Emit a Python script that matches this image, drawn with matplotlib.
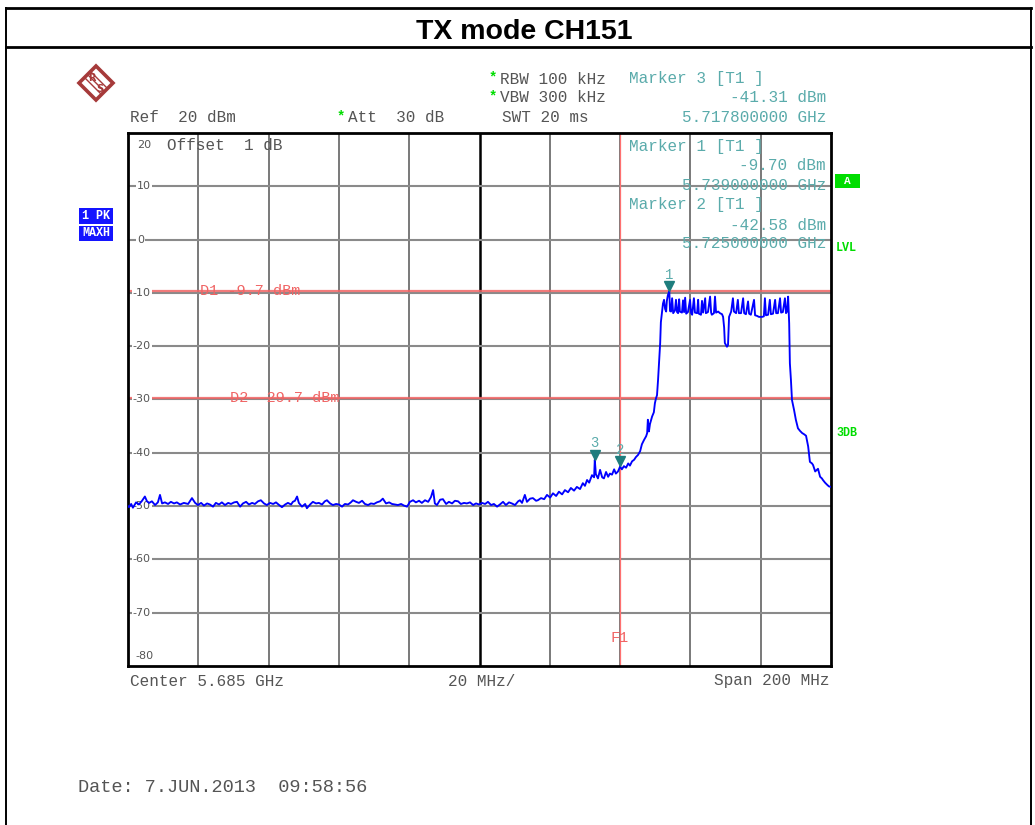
import matplotlib
matplotlib.use('Agg')
import matplotlib.pyplot as plt
import matplotlib.transforms as mtransforms
from matplotlib.patches import Polygon, Rectangle
from matplotlib.lines import Line2D

# sweep: 5.585 .. 5.785 GHz, max-hold peak trace
freq_mhz = [
    5585.0, 5585.3, 5585.9, 5586.4, 5587.3, 5588.1, 5589.0, 5589.8, 5590.4, 5591.0,
    5591.8, 5592.7, 5593.5, 5594.1, 5594.7, 5595.5, 5596.4, 5597.2, 5598.1, 5598.9,
    5599.8, 5600.9, 5602.1, 5603.2, 5604.1, 5604.9, 5605.8, 5606.6, 5607.5, 5608.3,
    5609.2, 5610.0, 5610.9, 5611.7, 5612.6, 5613.5, 5614.3, 5615.2, 5616.0, 5616.9,
    5617.7, 5618.6, 5619.4, 5620.3, 5621.1, 5622.0, 5622.8, 5623.7, 5624.5, 5625.4,
    5626.3, 5627.1, 5628.0, 5628.8, 5629.7, 5630.5, 5631.4, 5631.9, 5632.5, 5633.1,
    5633.6, 5634.5, 5635.4, 5635.9, 5636.8, 5637.6, 5638.5, 5639.3, 5640.2, 5641.0,
    5641.6, 5642.5, 5643.3, 5644.2, 5645.0, 5645.9, 5646.7, 5647.6, 5648.4, 5649.0,
    5649.9, 5650.7, 5651.6, 5652.4, 5653.3, 5654.1, 5655.0, 5655.8, 5656.7, 5657.5,
    5658.4, 5659.3, 5660.1, 5661.0, 5661.8, 5662.7, 5663.5, 5664.4, 5665.2, 5666.1,
    5666.9, 5667.8, 5668.6, 5669.5, 5670.4, 5671.2, 5671.8, 5672.3, 5672.9, 5673.8,
    5674.6, 5675.5, 5676.3, 5677.2, 5678.0, 5678.9, 5679.7, 5680.6, 5681.4, 5682.3,
    5683.2, 5684.0, 5684.9, 5685.7, 5686.6, 5687.4, 5688.3, 5689.1, 5690.0, 5690.8,
    5691.7, 5692.5, 5693.4, 5694.2, 5695.1, 5696.0, 5696.5, 5697.1, 5697.9, 5698.5,
    5699.4, 5700.2, 5701.1, 5701.6, 5702.5, 5703.4, 5704.2, 5705.1, 5705.9, 5706.8,
    5707.6, 5708.5, 5709.3, 5710.2, 5711.0, 5711.9, 5712.7, 5713.6, 5714.4, 5715.0,
    5715.6, 5716.2, 5717.0, 5717.6, 5717.8, 5718.1, 5718.7, 5719.3, 5719.9, 5720.4,
    5721.0, 5721.6, 5722.1, 5722.7, 5723.3, 5723.8, 5724.4, 5725.0, 5725.5, 5726.1,
    5726.7, 5727.3, 5727.8, 5728.4, 5729.0, 5729.5, 5730.1, 5730.7, 5731.2, 5731.8,
    5732.4, 5732.7, 5732.9, 5733.2, 5733.5, 5734.1, 5734.6, 5734.9, 5735.2, 5735.5,
    5735.8, 5736.1, 5736.4, 5736.6, 5736.9, 5737.2, 5737.5, 5737.8, 5738.1, 5738.3,
    5738.6, 5739.0, 5739.2, 5739.5, 5739.8, 5740.1, 5740.6, 5740.9, 5741.2, 5741.5,
    5741.8, 5742.0, 5742.6, 5742.9, 5743.2, 5743.5, 5743.8, 5744.3, 5744.9, 5745.2,
    5745.5, 5746.0, 5746.3, 5746.9, 5747.2, 5747.4, 5748.0, 5748.3, 5748.6, 5749.2,
    5749.4, 5750.0, 5750.6, 5750.9, 5751.1, 5751.7, 5752.0, 5752.3, 5752.9, 5753.4,
    5754.0, 5754.3, 5754.6, 5754.8, 5755.4, 5755.7, 5756.0, 5756.6, 5757.1, 5757.4,
    5758.0, 5758.5, 5758.8, 5759.4, 5760.0, 5760.3, 5760.8, 5761.4, 5761.7, 5762.2,
    5763.1, 5763.4, 5763.9, 5764.5, 5765.4, 5765.9, 5766.2, 5766.5, 5767.1, 5767.6,
    5767.9, 5768.5, 5769.1, 5769.4, 5769.9, 5770.5, 5770.8, 5771.3, 5771.9, 5772.2,
    5772.5, 5772.8, 5773.1, 5773.3, 5773.6, 5773.9, 5774.5, 5775.0, 5775.6, 5776.2,
    5776.8, 5777.3, 5777.9, 5778.5, 5779.0, 5779.6, 5779.9, 5780.5, 5781.0, 5781.3,
    5781.9, 5782.4, 5782.7, 5783.3, 5783.9, 5784.4, 5785.0,
]
level_dbm = [
    -50.0, -50.2, -49.6, -50.3, -49.3, -49.7, -49.0, -48.2, -49.1, -49.4,
    -49.1, -49.8, -49.3, -47.9, -49.5, -49.3, -49.6, -49.2, -49.5, -49.3,
    -49.7, -49.4, -49.6, -48.5, -49.4, -49.8, -49.4, -49.9, -49.5, -49.7,
    -50.1, -49.4, -49.7, -49.3, -49.8, -49.4, -49.6, -49.3, -49.2, -50.1,
    -49.5, -49.2, -49.7, -49.4, -49.6, -49.1, -48.9, -49.5, -49.8, -49.4,
    -49.6, -49.3, -49.8, -50.2, -49.7, -49.4, -49.7, -49.2, -49.0, -48.2,
    -49.4, -50.1, -49.6, -50.4, -49.7, -49.2, -49.5, -49.4, -49.7, -49.1,
    -48.9, -49.5, -49.8, -49.6, -49.7, -50.1, -49.6, -49.7, -49.3, -48.9,
    -49.2, -49.4, -49.0, -49.6, -49.8, -49.5, -49.6, -49.3, -49.1, -48.6,
    -49.5, -49.3, -49.6, -49.7, -49.8, -49.6, -49.9, -50.1, -49.2, -48.9,
    -49.3, -49.0, -49.4, -48.9, -49.2, -48.3, -47.0, -49.5, -49.8, -48.8,
    -48.7, -49.6, -49.2, -49.5, -49.0, -49.1, -49.6, -49.4, -49.5, -49.3,
    -49.8, -49.5, -49.7, -49.4, -49.6, -49.2, -49.8, -49.6, -50.1, -49.7,
    -49.2, -49.8, -49.3, -49.5, -49.8, -49.1, -48.9, -49.4, -47.9, -49.2,
    -48.6, -48.5, -49.0, -48.9, -48.5, -48.7, -47.9, -48.4, -47.6, -48.1,
    -47.3, -47.8, -47.0, -47.4, -46.6, -47.1, -46.4, -46.8, -45.7, -46.2,
    -45.1, -45.6, -44.2, -44.6, -41.31, -44.0, -44.8, -43.2, -44.6, -44.8,
    -43.6, -44.5, -43.9, -44.1, -43.1, -43.9, -43.5, -42.58, -43.1, -42.5,
    -42.8, -42.0, -42.4, -41.6, -41.3, -40.8, -40.4, -39.7, -38.4, -37.6,
    -36.9, -36.3, -33.8, -36.0, -34.6, -33.2, -32.4, -30.7, -29.8, -29.2,
    -26.3, -23.0, -19.4, -15.5, -13.8, -12.0, -11.3, -13.0, -13.5, -11.5,
    -10.4, -9.70, -13.4, -13.5, -11.0, -13.8, -13.3, -11.3, -13.6, -13.8,
    -11.2, -13.5, -13.7, -11.4, -13.6, -10.9, -13.9, -13.6, -11.3, -13.8,
    -14.1, -11.0, -13.7, -13.8, -11.3, -13.9, -14.1, -11.5, -13.7, -11.0,
    -13.8, -13.6, -10.7, -13.7, -14.1, -13.8, -10.7, -13.7, -13.5, -13.8,
    -14.0, -14.5, -16.5, -19.4, -20.1, -19.8, -14.5, -13.5, -11.0, -13.5,
    -13.8, -11.3, -13.8, -13.8, -11.0, -13.8, -14.0, -11.6, -13.9, -14.1,
    -11.3, -14.2, -14.3, -14.5, -14.5, -14.4, -11.0, -14.2, -14.1, -11.3,
    -14.0, -13.9, -11.3, -13.8, -13.8, -11.0, -13.7, -13.6, -11.0, -13.8,
    -13.5, -10.7, -15.7, -23.2, -26.3, -30.1, -32.0, -33.8, -35.4, -35.9,
    -36.3, -36.5, -36.8, -38.8, -41.7, -42.0, -42.3, -43.5, -43.2, -43.0,
    -44.5, -44.8, -45.1, -45.6, -46.0, -46.3, -46.4,
]

# markers: (number, frequency MHz, level dBm)
markers = [(1, 5739.0, -9.70), (2, 5725.0, -42.58), (3, 5717.8, -41.31)]
display_lines = [("D1", -9.7), ("D2", -29.7)]
f1_mhz = 5725.0
ylevels = [20, 10, 0, -10, -20, -30, -40, -50, -60, -70, -80]

W, H = 1035, 825
fig = plt.figure(figsize=(W / 100, H / 100), dpi=100)
fig.patch.set_facecolor('white')

def fx(x):
    return x / W

def fy(y):
    return 1 - y / H

mono = 'Liberation Mono'
txt = '#555555'
teal = '#5aabab'
green = '#00dd00'
red = '#f06464'

# table frame round the title row
frame = dict(color='black', transform=fig.transFigure)
fig.add_artist(Line2D([fx(6), fx(1031)], [fy(8), fy(8)], lw=2.0, **frame))
fig.add_artist(Line2D([fx(6), fx(1031)], [fy(47), fy(47)], lw=2.0, **frame))
fig.add_artist(Line2D([fx(6), fx(6)], [fy(8), fy(825)], lw=1.4, **frame))
fig.add_artist(Line2D([fx(1031), fx(1031)], [fy(8), fy(825)], lw=1.4, **frame))
fig.text(fx(524), fy(32), 'TX mode CH151', ha='center', va='center',
         fontsize=20.5, fontweight='bold', family='Liberation Sans')

ax = fig.add_axes([fx(128), fy(666), 703 / W, 533 / H])
ax.set_xlim(5585, 5785)
ax.set_ylim(-80, 20)
ax.set_xticks([])
ax.set_yticks([])
for s in ax.spines.values():
    s.set_linewidth(2.0)
    s.set_color('black')

# graticule
for v in range(5605, 5785, 20):
    if v == 5685:
        ax.axvline(v, color='black', lw=1.8, zorder=1)
    else:
        ax.axvline(v, color='#6e6e6e', lw=1.3, zorder=1)
for lv in ylevels[1:-1]:
    ax.axhline(lv, color='#8a8a8a', lw=1.5, zorder=1)

# level labels on the graticule
for lv in ylevels:
    if lv == 20:
        ax.text(5587.6, 17.7, '20', fontsize=8, color=txt, va='center', zorder=3)
    elif lv == -80:
        ax.text(5587.0, -78.1, '-80', fontsize=8, color=txt, va='center', zorder=3)
    else:
        xl = 5587.6 if lv >= 0 else 5586.4
        ax.text(xl, lv, str(lv), fontsize=8, color=txt, va='center', zorder=3,
                bbox=dict(facecolor='white', edgecolor='none', pad=0.6))

# display lines and frequency line
for name, lv in display_lines:
    ax.axhline(lv, color=red, lw=1.6, alpha=0.85, zorder=2)
ax.text(5605.5, display_lines[0][1], f'{display_lines[0][0]} {display_lines[0][1]} dBm',
        family=mono, fontsize=11, color=red, va='center', zorder=3)
ax.text(5614.0, display_lines[1][1], f'{display_lines[1][0]} {display_lines[1][1]} dBm',
        family=mono, fontsize=11, color=red, va='center', zorder=3)
ax.axvline(f1_mhz, color='#ff7070', lw=0.9, zorder=2)
ax.text(f1_mhz, -74.8, 'F1', family=mono, fontsize=11, color=red,
        ha='center', va='center', zorder=3)

# trace
ax.plot(freq_mhz, level_dbm, color='#0000ff', lw=1.35, zorder=4)

# marker symbols with their tip on the trace
up = mtransforms.offset_copy(ax.transData, fig=fig, x=0, y=3.8, units='points')
up2 = mtransforms.offset_copy(ax.transData, fig=fig, x=0, y=12, units='points')
for n, f, lv in markers:
    ax.plot(f, lv, marker='v', ms=7.5, color='#1e7d7d', transform=up, zorder=5,
            clip_on=False)
    ax.text(f, lv, str(n), transform=up2, family=mono, fontsize=10, color=teal,
            ha='center', va='center', zorder=5)

# instrument settings header
fig.text(fx(130), fy(118), 'Ref  20 dBm', family=mono, fontsize=11.5, color=txt, va='center')
fig.text(fx(341), fy(116), '*', family=mono, fontsize=10, fontweight='bold', color=green,
         ha='center', va='center')
fig.text(fx(348), fy(118), 'Att  30 dB', family=mono, fontsize=11.5, color=txt, va='center')
fig.text(fx(493), fy(77), '*', family=mono, fontsize=10, fontweight='bold', color=green,
         ha='center', va='center')
fig.text(fx(500), fy(79), 'RBW 100 kHz', family=mono, fontsize=11.5, color=txt, va='center')
fig.text(fx(493), fy(96), '*', family=mono, fontsize=10, fontweight='bold', color=green,
         ha='center', va='center')
fig.text(fx(500), fy(98), 'VBW 300 kHz', family=mono, fontsize=11.5, color=txt, va='center')
fig.text(fx(502), fy(118), 'SWT 20 ms', family=mono, fontsize=11.5, color=txt, va='center')

# marker readouts
m1, m2, m3 = markers
readouts = [
    (m3, 79, 98, 118),
    (m1, 147, 166, 185),
    (m2, 205, 225, 244),
]
for (n, f, lv), y0, y1, y2 in readouts:
    fig.text(fx(629), fy(y0), f'Marker {n} [T1 ]', family=mono, fontsize=11.5,
             color=teal, va='center', zorder=6)
    fig.text(fx(826), fy(y1), f'{lv:.2f} dBm', family=mono, fontsize=11.5,
             color=teal, ha='right', va='center', zorder=6)
    fig.text(fx(826), fy(y2), f'{f / 1000:.9f} GHz', family=mono, fontsize=11.5,
             color=teal, ha='right', va='center', zorder=6)

fig.text(fx(167), fy(145), 'Offset  1 dB', family=mono, fontsize=11.5, color=txt,
         va='center', zorder=6)

# trace status boxes
for label, y0, y1 in [('1 PK', 208, 224), ('MAXH', 226, 241)]:
    fig.add_artist(Rectangle((fx(79), fy(y1)), fx(113) - fx(79), fy(y0) - fy(y1),
                             transform=fig.transFigure, facecolor='#1414ff',
                             edgecolor='none'))
    fig.text(fx(96), fy((y0 + y1) / 2), label, family=mono, fontsize=8.5,
             fontweight='bold', color='white', ha='center', va='center')

fig.add_artist(Rectangle((fx(835), fy(188)), fx(860) - fx(835), fy(174) - fy(188),
                         transform=fig.transFigure, facecolor=green, edgecolor='none'))
fig.text(fx(847.5), fy(181), 'A', family=mono, fontsize=8, fontweight='bold',
         color='white', ha='center', va='center')
fig.text(fx(836), fy(248), 'LVL', family=mono, fontsize=8.5, fontweight='bold',
         color=green, va='center')
fig.text(fx(836), fy(433), '3DB', family=mono, fontsize=8.5, fontweight='bold',
         color=green, va='center')

# footer
fig.text(fx(130), fy(681), 'Center 5.685 GHz', family=mono, fontsize=11.5, color=txt, va='center')
fig.text(fx(448), fy(681), '20 MHz/', family=mono, fontsize=11.5, color=txt, va='center')
fig.text(fx(830), fy(681), 'Span 200 MHz', family=mono, fontsize=11.5, color=txt,
         ha='right', va='center')
fig.text(fx(78), fy(788), 'Date: 7.JUN.2013  09:58:56', family=mono, fontsize=13.4,
         color=txt, va='center')

# R&S logo
cx, cy, r = 96, 83, 17
logo_col = '#a63a3a'
fig.add_artist(Polygon([(fx(cx - r), fy(cy)), (fx(cx), fy(cy - r)), (fx(cx + r), fy(cy)),
                        (fx(cx), fy(cy + r))], closed=True, transform=fig.transFigure,
                       facecolor='white', edgecolor=logo_col, lw=2.6))
for d in (-3, 0, 3):
    fig.add_artist(Line2D([fx(cx - 8 + d), fx(cx + 8 + d)], [fy(cy - 8 - d), fy(cy + 8 - d)],
                          transform=fig.transFigure, color=logo_col, lw=1.0))
fig.text(fx(cx - 4), fy(cy - 5), 'R', fontsize=7, color=logo_col, ha='center', va='center',
         family='DejaVu Sans', fontweight='bold')
fig.text(fx(cx + 4), fy(cy + 6), 'S', fontsize=7, color=logo_col, ha='center', va='center',
         family='DejaVu Sans', fontweight='bold')

plt.savefig('out.png', dpi=100)
